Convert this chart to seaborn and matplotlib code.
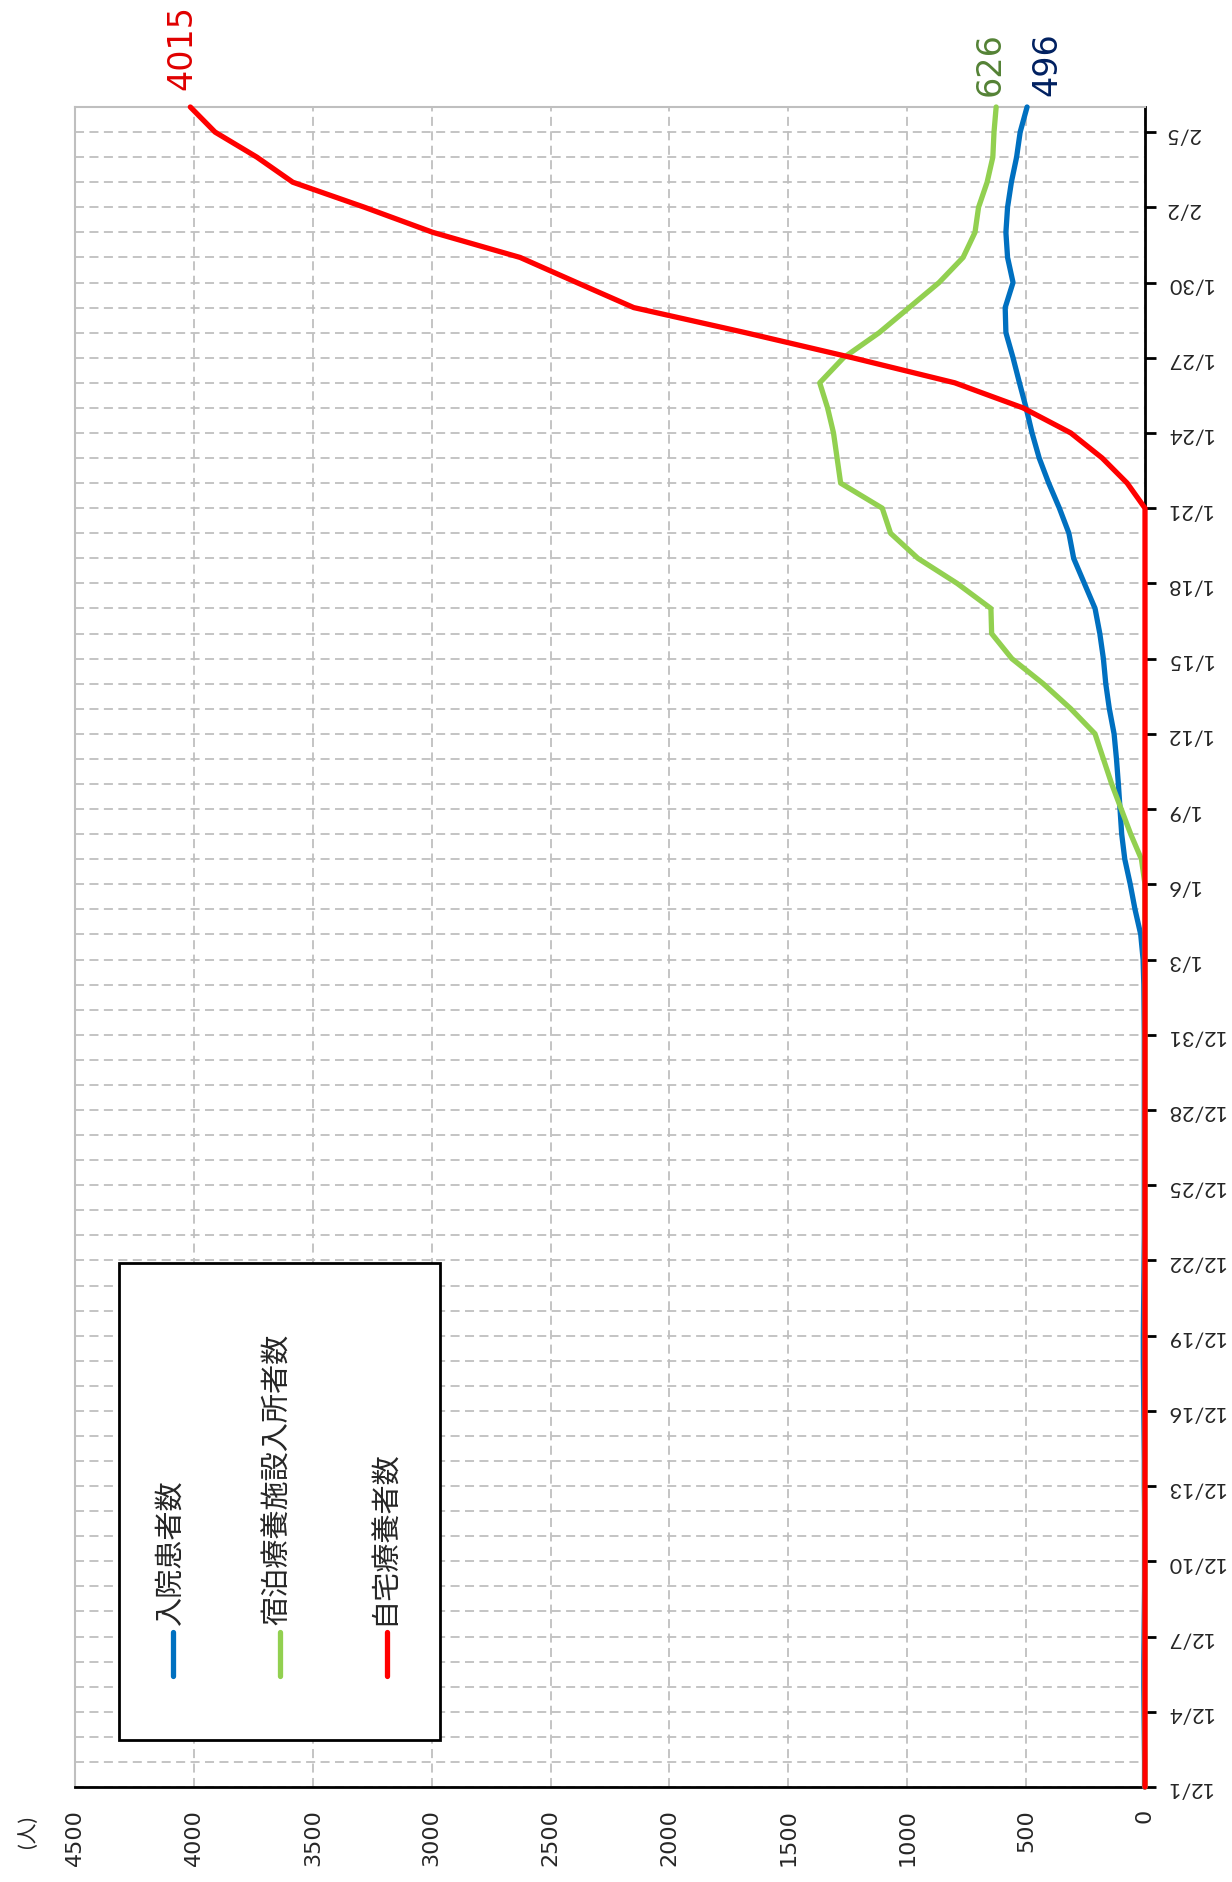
import numpy as np
import pandas as pd
import seaborn as sns
import matplotlib.pyplot as plt
from matplotlib.lines import Line2D
from matplotlib.patches import Rectangle

# Daily series, 12/1 .. 2/6
dates = pd.date_range("2020-12-01", "2021-02-06", freq="D")
day_labels = [f"{d.month}/{d.day}" for d in dates]

series_names = ["入院患者数", "宿泊療養施設入所者数", "自宅療養者数"]
colors = ["#0070C0", "#92D050", "#FF0000"]

hospital = [2, 2, 3, 4, 5, 5, 4, 3, 2, 2, 2, 2, 3, 3, 4, 5, 6, 7, 7, 6, 5, 4, 3, 3, 3, 3, 3, 3, 3, 3, 3,
            4, 5, 8, 18, 42, 62, 85, 98, 105, 112, 120, 130, 150, 165, 175, 190, 210, 255, 300, 320,
            360, 405, 445, 475, 500, 528, 555, 585, 588, 555, 578,
            585, 578, 562, 540, 525, 496]
hotel = [0, 0, 1, 1, 1, 0, 0, 0, 0, 0, 1, 1, 1, 0, 0, 0, 0, 0, 0, 0, 0, 0, 0, 0, 0, 0, 0, 0, 0, 0, 0,
         0, 0, 0, 0, 0, 0, 15, 60, 100, 140, 175, 210, 312, 428, 560, 645, 648, 790, 955, 1070,
         1105, 1280, 1295, 1310, 1335, 1368, 1268, 1118, 992, 866, 765,
         715, 700, 664, 640, 635, 626]
home = [0] * 52 + [75, 180, 312, 513, 800, 1230, 1680, 2150, 2390, 2628,
                   2995, 3282, 3584, 3735, 3911, 4015]

end_labels = ["496", "626", "4015"]
end_colors = ["#002060", "#548235", "#E00000"]

W, H = 1232, 1882
fig = plt.figure(figsize=(W / 100, H / 100), dpi=100)
sns.set_style("white")
plt.rcParams['font.family'] = ['Lato', 'Noto Sans CJK JP', 'DejaVu Sans']

ax = fig.add_axes([75 / W, 1 - 1787 / H, (1145 - 75) / W, (1787 - 107) / H])

days = np.arange(len(dates))
df = pd.DataFrame({
    "day": np.concatenate([days] * 3),
    "value": hospital + hotel + home,
    "series": np.repeat(series_names, len(days)),
})

sns.lineplot(data=df, x="value", y="day", hue="series", palette=colors, orient="y",
             estimator=None, sort=False, lw=3.8, legend=False, ax=ax)
for ln in ax.lines:
    ln.set_clip_on(False)
    ln.set_zorder(3)
    ln.set_solid_joinstyle("round")

ax.set_xlim(4500, 0)
ax.set_ylim(0, len(dates) - 1)
ax.set_xlabel("")
ax.set_ylabel("")

# value axis (bottom)
vt = list(range(0, 4501, 500))
ax.set_xticks(vt)
ax.set_xticklabels([str(v) for v in vt], rotation=90, family="DejaVu Sans", fontsize=16)

# date axis (right)
ax.yaxis.tick_right()
ax.set_yticks(days[::3])
ax.set_yticklabels(day_labels[::3], rotation=180, fontsize=15.5)
ax.set_yticks(days, minor=True)

ax.tick_params(axis="both", which="major", length=8, width=2, color="black", direction="out")
ax.tick_params(axis="x", pad=8)
ax.tick_params(axis="y", pad=7)
ax.tick_params(axis="y", which="minor", length=0)

ax.grid(True, axis="y", which="both", color="#BFBFBF", ls=(0, (5, 3)), lw=1.3)
ax.grid(True, axis="x", which="major", color="#BFBFBF", ls=(0, (5, 3)), lw=1.3)

for s in ["top", "left"]:
    ax.spines[s].set_color("#BFBFBF")
    ax.spines[s].set_linewidth(1.5)
for s in ["right", "bottom"]:
    ax.spines[s].set_color("black")
    ax.spines[s].set_linewidth(2)

# end-of-series value labels
last = len(dates) - 1
offsets = [(14, 8), (-4, 8), (-6, 12)]
for vals, lab, c, off in zip([hospital, hotel, home], end_labels, end_colors, offsets):
    ax.annotate(lab, (vals[-1], last), xytext=off, textcoords="offset points",
                rotation=90, ha="center", va="bottom", color=c, fontsize=24,
                family="DejaVu Sans", annotation_clip=False)

# unit label
fig.text(28 / W, 1 - 1832 / H, "(人)", rotation=90, ha="center", va="center", fontsize=15)

# legend, drawn rotated
fig.add_artist(Rectangle((119 / W, 1 - 1740 / H), (440 - 119) / W, (1740 - 1263) / H,
                         transform=fig.transFigure, facecolor="white", edgecolor="black",
                         lw=2, zorder=5))
for name, c, x in zip(series_names, colors, [173, 280, 387]):
    fig.add_artist(Line2D([x / W, x / W], [1 - 1676 / H, 1 - 1632 / H], transform=fig.transFigure,
                          color=c, lw=3.8, solid_capstyle="round", zorder=6))
    fig.text((x - 3) / W, 1 - 1625 / H, name, rotation=90, ha="center", va="bottom",
             fontsize=21, zorder=6)

fig.savefig("out.png", dpi=100)
